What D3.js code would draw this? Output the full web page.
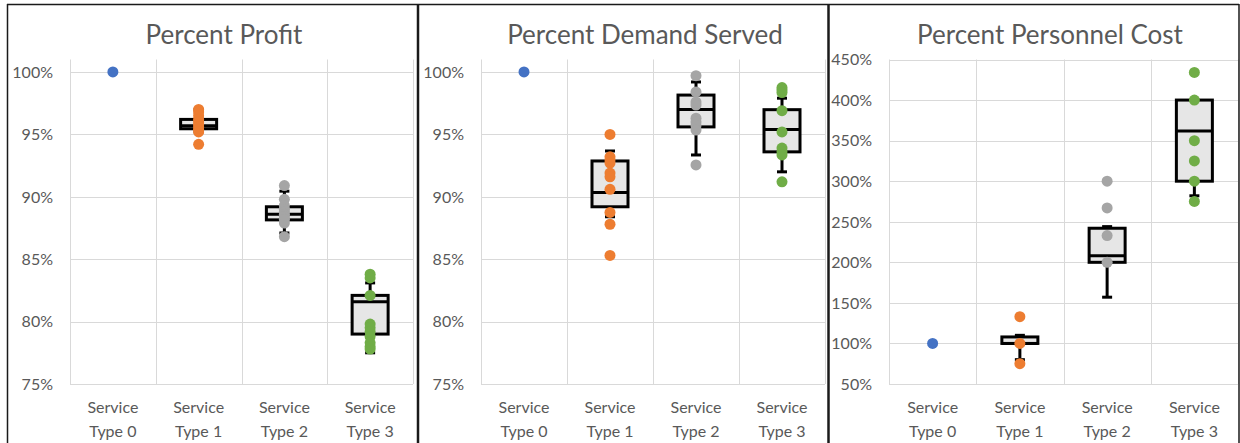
<!DOCTYPE html>
<meta charset="utf-8">
<style>
body { margin: 0; background: #fff; }
text { font-family: Lato, "Open Sans", sans-serif; fill: #595959; }
.grid line { stroke: #d9d9d9; stroke-width: 1px; }
.title { font-size: 26px; }
.tick { font-size: 16px; }
.cat { font-size: 16px; }
</style>
<body>
<svg width="1240" height="443"></svg>
<script src="https://d3js.org/d3.v7.min.js"></script>
<script>
// categories and colours
var categories = ["Service Type 0", "Service Type 1", "Service Type 2", "Service Type 3"];
var catColors = ["#4472C4", "#ED7D31", "#A5A5A5", "#70AD47"];

// Percent Profit (values in %)
var profitPoints = [
  [100],
  [97.0, 96.8, 96.5, 96.2, 96.0, 95.8, 95.6, 95.4, 95.2, 94.2],
  [90.9, 89.8, 89.3, 89.0, 88.8, 88.6, 88.4, 88.2, 87.9, 86.8],
  [83.8, 83.5, 82.1, 79.8, 79.5, 79.2, 78.8, 78.3, 78.0, 77.8]
];
var profitQ1 = [null, 95.45, 88.15, 79.0];
var profitMedian = [null, 95.7, 88.6, 81.6];
var profitQ3 = [null, 96.2, 89.2, 82.1];
var profitLow = [null, 95.2, 87.1, 77.5];
var profitHigh = [null, 97.0, 90.45, 83.1];
var profitTicks = [75, 80, 85, 90, 95, 100];

// Percent Demand Served
var demandPoints = [
  [100],
  [95.0, 93.2, 92.95, 92.7, 91.9, 91.6, 90.6, 88.75, 87.8, 85.3],
  [99.7, 98.4, 97.6, 97.35, 96.3, 96.0, 95.7, 95.35, 92.55],
  [98.75, 98.55, 98.35, 96.9, 95.2, 93.9, 93.6, 93.35, 91.2]
];
var demandQ1 = [null, 89.2, 95.6, 93.6];
var demandMedian = [null, 90.35, 97.0, 95.4];
var demandQ3 = [null, 92.87, 98.15, 96.98];
var demandLow = [null, 88.4, 93.35, 92.0];
var demandHigh = [null, 93.67, 99.2, 97.9];
var demandTicks = [75, 80, 85, 90, 95, 100];

// Percent Personnel Cost
var costPoints = [
  [100],
  [133, 100, 75],
  [300, 267, 233, 200],
  [434, 400, 350, 325, 300, 275]
];
var costQ1 = [null, 100, 200, 300];
var costMedian = [null, 100, 208, 362];
var costQ3 = [null, 108, 242, 400];
var costLow = [null, 80, 157, 282];
var costHigh = [null, 110, 244, 400];
var costTicks = [50, 100, 150, 200, 250, 300, 350, 400, 450];

var panels = [
  {title: "Percent Profit", titleX: 224, left: 70, right: 413, domain: [75, 101], ticks: profitTicks,
   points: profitPoints, q1: profitQ1, med: profitMedian, q3: profitQ3, lo: profitLow, hi: profitHigh},
  {title: "Percent Demand Served", titleX: 645, left: 481, right: 825, domain: [75, 101], ticks: demandTicks,
   points: demandPoints, q1: demandQ1, med: demandMedian, q3: demandQ3, lo: demandLow, hi: demandHigh},
  {title: "Percent Personnel Cost", titleX: 1050, left: 889, right: 1238, domain: [50, 450], ticks: costTicks,
   points: costPoints, q1: costQ1, med: costMedian, q3: costQ3, lo: costLow, hi: costHigh}
];

var svg = d3.select("svg");
var plotTop = 59.5, plotBottom = 384;

panels.forEach(function(p) {
  var g = svg.append("g");
  var x = d3.scaleBand().domain(categories).range([p.left, p.right]).padding(0);
  var y = d3.scaleLinear().domain(p.domain).range([plotBottom, plotTop]);
  var cx = function(i) { return x(categories[i]) + x.bandwidth() / 2; };

  // gridlines
  var grid = g.append("g").attr("class", "grid");
  grid.selectAll(".h").data(p.ticks).enter().append("line")
      .attr("x1", p.left).attr("x2", p.right)
      .attr("y1", function(d) { return Math.round(y(d)) + 0.5; })
      .attr("y2", function(d) { return Math.round(y(d)) + 0.5; });
  var vx = categories.map(function(c) { return x(c); }).concat([p.right]);
  grid.selectAll(".v").data(vx).enter().append("line")
      .attr("x1", function(d) { return Math.round(d) + 0.5; })
      .attr("x2", function(d) { return Math.round(d) + 0.5; })
      .attr("y1", plotTop).attr("y2", plotBottom);

  // y tick labels
  g.selectAll(".tick").data(p.ticks).enter().append("text")
      .attr("class", "tick")
      .attr("x", p.left - 17)
      .attr("y", function(d) { return y(d); })
      .attr("dy", "0.36em")
      .attr("text-anchor", "end")
      .text(function(d) { return d + "%"; });

  // category labels
  var cat = g.selectAll(".cat").data(categories).enter().append("text")
      .attr("class", "cat")
      .attr("text-anchor", "middle")
      .attr("x", function(d, i) { return cx(i); })
      .attr("y", 413);
  cat.append("tspan").attr("x", function(d, i) { return cx(i); })
      .text(function(d) { return d.split(" ")[0]; });
  cat.append("tspan").attr("x", function(d, i) { return cx(i); }).attr("dy", 24)
      .text(function(d) { return d.split(" ").slice(1).join(" "); });

  // title
  g.append("text").attr("class", "title")
      .attr("x", p.titleX).attr("y", 44)
      .attr("text-anchor", "middle")
      .text(p.title);

  // boxes and whiskers
  var idx = d3.range(categories.length).filter(function(i) { return p.q1[i] != null; });
  var bw = 18;
  var bx = g.append("g").attr("stroke", "#000").attr("stroke-width", 3);
  idx.forEach(function(i) {
    var c = cx(i);
    bx.append("line").attr("x1", c).attr("x2", c).attr("y1", y(p.hi[i])).attr("y2", y(p.q3[i]));
    bx.append("line").attr("x1", c).attr("x2", c).attr("y1", y(p.q1[i])).attr("y2", y(p.lo[i]));
    bx.append("line").attr("x1", c - 5).attr("x2", c + 5).attr("y1", y(p.hi[i])).attr("y2", y(p.hi[i]));
    bx.append("line").attr("x1", c - 5).attr("x2", c + 5).attr("y1", y(p.lo[i])).attr("y2", y(p.lo[i]));
    bx.append("rect").attr("x", c - bw).attr("width", bw * 2)
        .attr("y", y(p.q3[i])).attr("height", y(p.q1[i]) - y(p.q3[i]))
        .attr("fill", "#e6e6e6");
    bx.append("line").attr("x1", c - bw).attr("x2", c + bw)
        .attr("y1", y(p.med[i])).attr("y2", y(p.med[i]));
  });

  // points
  p.points.forEach(function(vals, i) {
    g.append("g").selectAll("circle").data(vals).enter().append("circle")
        .attr("cx", cx(i))
        .attr("cy", function(d) { return y(d); })
        .attr("r", 5.5)
        .attr("fill", catColors[i]);
  });
});

// chart borders
var frame = svg.append("g").attr("stroke", "#1a1a1a").attr("fill", "none");
frame.append("line").attr("x1", 7).attr("x2", 1239).attr("y1", 4.5).attr("y2", 4.5).attr("stroke-width", 1.5);
[7.5, 1239].forEach(function(xx) {
  frame.append("line").attr("x1", xx).attr("x2", xx).attr("y1", 4).attr("y2", 443).attr("stroke-width", 1.5);
});
[418, 828.5].forEach(function(xx) {
  frame.append("line").attr("x1", xx).attr("x2", xx).attr("y1", 4).attr("y2", 443).attr("stroke-width", 2.5);
});
</script>
</body>
